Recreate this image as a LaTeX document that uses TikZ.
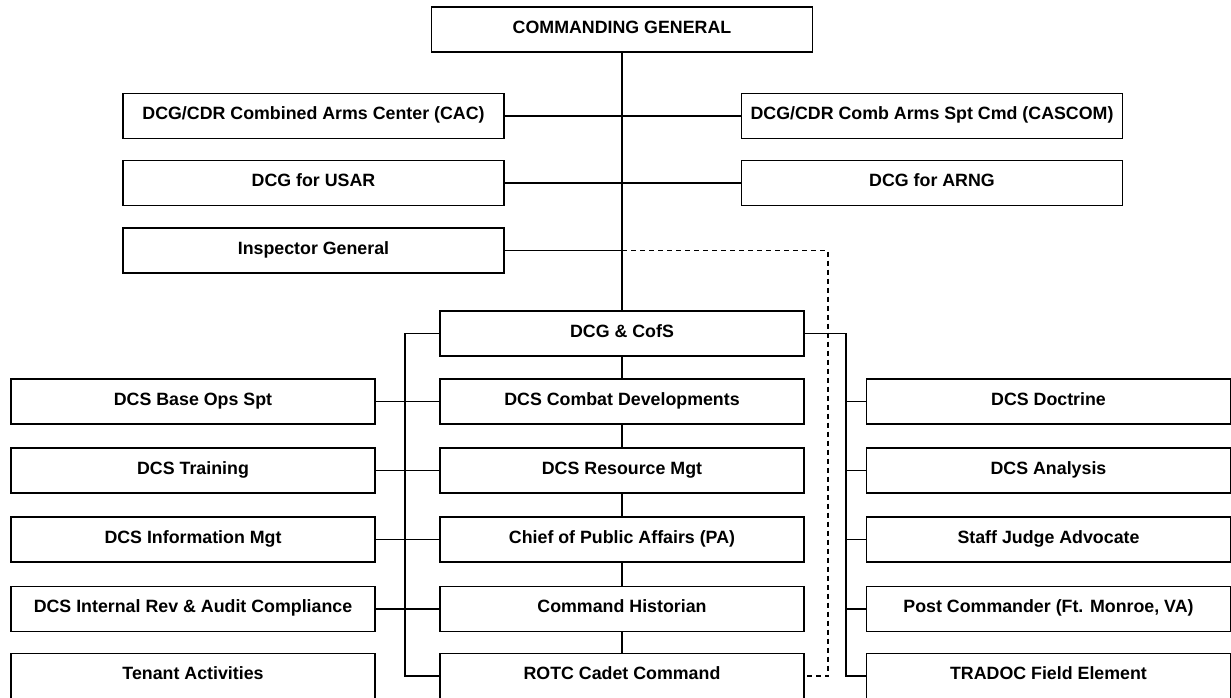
\documentclass[tikz,border=0pt]{standalone}
\usepackage{fontspec}
\setmainfont{Liberation Sans}
\begin{document}
\begin{tikzpicture}[x=1pt,y=-1pt,line width=1.6pt,
    box/.style={draw,line width=1.8pt,minimum width=364pt,minimum height=45pt,inner sep=0pt,text height=0.72em,text depth=0pt,font=\bfseries\fontsize{17.8}{20}\selectfont},
    wide/.style={box,minimum width=381pt}]
    \useasboundingbox (0,0) rectangle (1231,698);
    \node[wide](cg) at (622,29.5) {COMMANDING GENERAL};
    \node[wide](cac) at (313.5,116) {DCG/CDR Combined Arms Center (CAC)};
    \node[wide](cascom) at (932,116) {DCG/CDR Comb Arms Spt Cmd (CASCOM)};
    \node[wide](usar) at (313.5,183) {DCG for USAR};
    \node[wide](arng) at (932,183) {DCG for ARNG};
    \node[wide](ig) at (313.5,250.5) {Inspector General};
    \node[box](cofs) at (622,333.5) {DCG \& CofS};
    \node[box](cd) at (622,401.5) {DCS Combat Developments};
    \node[box](rm) at (622,470.5) {DCS Resource Mgt};
    \node[box](pa) at (622,539.5) {Chief of Public Affairs (PA)};
    \node[box](hist) at (622,609) {Command Historian};
    \node[box](rotc) at (622,676) {ROTC Cadet Command};
    \node[box](bops) at (193,401.5) {DCS Base Ops Spt};
    \node[box](trn) at (193,470.5) {DCS Training};
    \node[box](im) at (193,539.5) {DCS Information Mgt};
    \node[box](ira) at (193,609) {DCS Internal Rev \& Audit Compliance};
    \node[box](ten) at (193,676) {Tenant Activities};
    \node[box](doc) at (1048.5,401.5) {DCS Doctrine};
    \node[box](ana) at (1048.5,470.5) {DCS Analysis};
    \node[box](sja) at (1048.5,539.5) {Staff Judge Advocate};
    \node[box](post) at (1048.5,609) {Post Commander (Ft. Monroe, VA)};
    \node[box](tfe) at (1048.5,676) {TRADOC Field Element};
    \coordinate (ig0) at (ig.east -| cg.south);
    \coordinate (lb) at (405,0);
    \coordinate (rb) at (846,0);
    \coordinate (db) at (828,0);
    \draw (cg) -- (cofs);
    \draw (cac) -- (cascom);
    \draw (usar) -- (arng);
    \draw (ig) -- (ig0);
    \draw[dashed,dash pattern=on 5pt off 4pt,line width=1.8pt] (ig0) -- (ig0 -| db) -- (rotc.east -| db) -- (rotc.east);
    \draw (cofs) -- (cd) -- (rm) -- (pa) -- (hist) -- (rotc);
    \draw (cofs.west) -- (cofs.west -| lb) -- (rotc.west -| lb) -- (rotc.west);
    \foreach \a/\b in {bops/cd,trn/rm,im/pa,ira/hist}
        \draw (\a) -- (\b);
    \draw (cofs.east) -- (cofs.east -| rb) -- (tfe.west -| rb) -- (tfe.west);
    \foreach \n in {doc,ana,sja,post}
        \draw (\n.west -| rb) -- (\n.west);
\end{tikzpicture}
\end{document}
